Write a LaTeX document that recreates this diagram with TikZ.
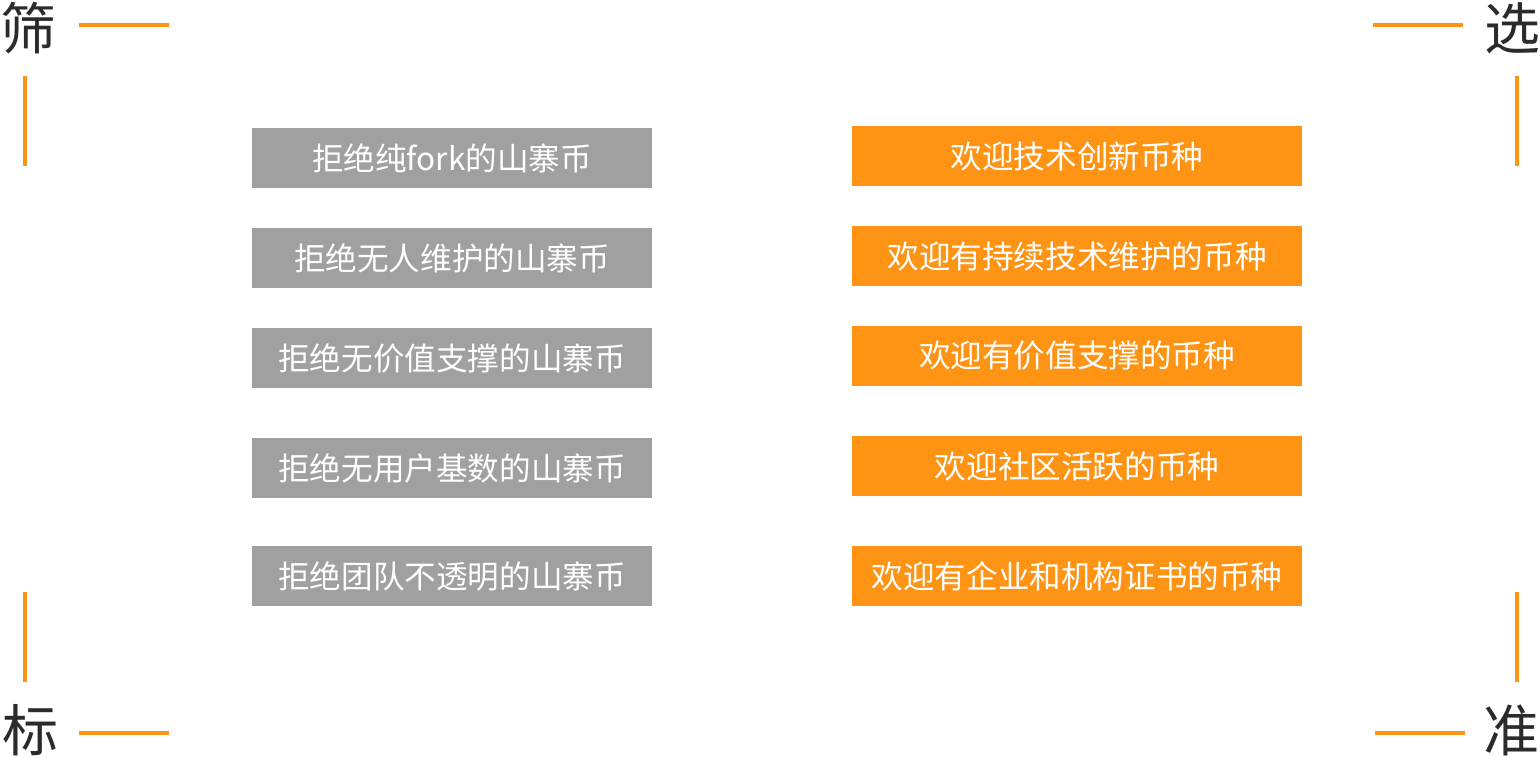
\documentclass[tikz,border=0pt]{standalone}
\usepackage{fontspec}
\setmainfont{Noto Sans CJK SC}
\usepackage{tikz}
\usetikzlibrary{positioning}
\definecolor{coin}{HTML}{FE9314}
\definecolor{fake}{HTML}{A0A0A0}
\definecolor{ink}{HTML}{2B2B2B}

\begin{document}
\begin{tikzpicture}[x=0.5pt,y=-0.5pt,node distance=20pt,every node/.style={inner sep=0pt,outer sep=0pt,align=center},reject/.style={fill=fake,text=white,minimum width=200pt,minimum height=30pt,font=\fontsize{15.8pt}{18pt}\selectfont},welcome/.style={fill=coin,text=white,minimum width=225pt,minimum height=30pt,font=\fontsize{15.8pt}{18pt}\selectfont},corner/.style={text=ink,font=\fontsize{28pt}{30pt}\selectfont},bar/.style={coin,line width=2pt}]
\useasboundingbox (0,0) rectangle (1540,758);
% left column
\node[reject] (g1) at (452,158) {拒绝纯fork的山寨币};
\node[reject,below=of g1] (g2) {拒绝无人维护的山寨币};
\node[reject,below=of g2] (g3) {拒绝无价值支撑的山寨币};
\node[reject,below=25pt of g3] (g4) {拒绝无用户基数的山寨币};
\node[reject,below=24pt of g4] (g5) {拒绝团队不透明的山寨币};
% right column
\node[welcome] (o1) at (1077,156) {欢迎技术创新币种};
\node[welcome,below=of o1] (o2) {欢迎有持续技术维护的币种};
\node[welcome,below=of o2] (o3) {欢迎有价值支撑的币种};
\node[welcome,below=25pt of o3] (o4) {欢迎社区活跃的币种};
\node[welcome,below=25pt of o4] (o5) {欢迎有企业和机构证书的币种};
% corners
\node[corner] (tl) at (28,28) {筛};
\node[corner] (tr) at (1512,28) {选};
\node[corner] (bl) at (31,730) {标};
\node[corner] (br) at (1511,730) {准};
\draw[bar] (79,25)--(169,25) (25,76)--(25,166);
\draw[bar] (1373,25)--(1463,25) (1517,76)--(1517,166);
\draw[bar] (25,592)--(25,682) (79,733)--(169,733);
\draw[bar] (1517,592)--(1517,682) (1375,733)--(1465,733);
\end{tikzpicture}
\end{document}
